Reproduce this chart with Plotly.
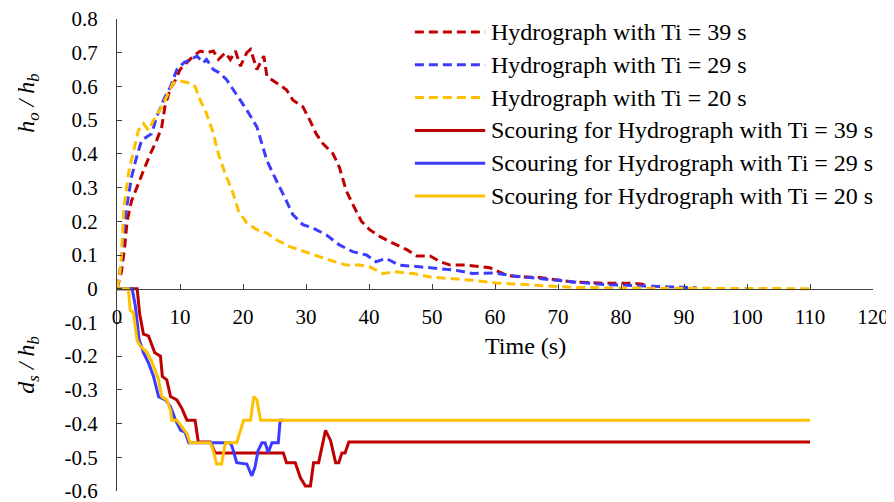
import plotly.graph_objects as go

# ---------------- data ----------------
t_h39 = [0, 0.7, 1.2, 1.6, 2.3, 3.1, 4.2, 5.3, 6.3, 7.1, 7.6, 8.4, 9.3, 10, 11.1, 12.1, 13.2, 14.2, 15.3, 16.1,
         17.2, 18, 18.8, 19.6, 20.6, 21.2, 22.2, 23.3, 23.8, 25.3, 26.9, 27.9, 29.5, 30.6, 31.6, 32.7, 34.3, 35.3,
         36.4, 37.7, 38.8, 40.1, 41.7, 43.8, 46, 47.6, 49.7, 51.3, 52.9, 55.5, 57.6, 59.2, 61.8, 64, 67.1, 70,
         72.4, 77.7, 82, 84]
h_h39 = [0, 0.05, 0.12, 0.2, 0.26, 0.30, 0.35, 0.40, 0.44, 0.48, 0.54, 0.59, 0.62, 0.65, 0.67, 0.69, 0.705, 0.70,
         0.705, 0.68, 0.70, 0.68, 0.705, 0.66, 0.70, 0.71, 0.65, 0.69, 0.63, 0.61, 0.59, 0.56, 0.54, 0.50, 0.46,
         0.43, 0.40, 0.36, 0.29, 0.24, 0.20, 0.175, 0.155, 0.135, 0.116, 0.097, 0.097, 0.08, 0.07, 0.07, 0.065,
         0.062, 0.04, 0.035, 0.033, 0.025, 0.02, 0.016, 0.016, 0.012]

t_h29 = [0, 0.3, 0.7, 1.0, 1.6, 2.3, 3.1, 3.9, 4.7, 5.5, 6.3, 7.4, 8.5, 9.5, 10.6, 11.6, 12.7, 13.7, 14.2, 15.3,
         16.3, 17.4, 18.5, 19.6, 20.6, 22.2, 22.8, 23.8, 24.8, 25.9, 26.9, 27.9, 29.5, 31.1, 33.2, 35.3, 37.4,
         39.6, 41.1, 42.7, 44.8, 48, 50.6, 53.8, 56.4, 59.7, 63, 67.1, 72.4, 77.7, 83, 88.2, 92]
h_h29 = [0, 0.03, 0.08, 0.16, 0.25, 0.33, 0.39, 0.44, 0.45, 0.46, 0.51, 0.56, 0.60, 0.65, 0.67, 0.68, 0.69, 0.67,
         0.68, 0.65, 0.64, 0.62, 0.59, 0.56, 0.53, 0.48, 0.44, 0.38, 0.34, 0.30, 0.26, 0.22, 0.19, 0.18, 0.16,
         0.13, 0.11, 0.10, 0.08, 0.09, 0.07, 0.065, 0.06, 0.055, 0.045, 0.047, 0.038, 0.03, 0.02, 0.012, 0.008,
         0.005, 0.003]

t_h20 = [0, 0.4, 0.7, 1.1, 1.9, 2.6, 3.4, 4.2, 5.0, 5.8, 6.8, 7.9, 8.9, 10.2, 11.6, 12.4, 13.2, 14.2, 15.3, 16.1,
         17.2, 18.3, 19.3, 20.6, 22.2, 23.8, 25.3, 27.4, 29, 31.1, 33.7, 36.4, 38.5, 40.1, 42.2, 44.3, 47, 49.7,
         53.4, 56.4, 60.2, 67.1, 72.4, 80, 90, 100, 110]
h_h20 = [0, 0.035, 0.10, 0.24, 0.35, 0.41, 0.47, 0.49, 0.47, 0.50, 0.53, 0.57, 0.61, 0.615, 0.61, 0.60, 0.56, 0.52,
         0.46, 0.40, 0.34, 0.29, 0.23, 0.195, 0.175, 0.165, 0.145, 0.125, 0.115, 0.10, 0.085, 0.07, 0.07, 0.065,
         0.045, 0.05, 0.045, 0.035, 0.03, 0.025, 0.017, 0.01, 0.004, 0.002, 0.001, 0.0, 0.0]

t_s39 = [0, 3.2, 3.6, 4.2, 5.0, 5.5, 6.0, 6.9, 7.2, 7.9, 8.5, 9.5, 10.3, 11.1, 12.4, 12.9, 14.8, 15.6, 26.4, 26.9,
         28.3, 29.1, 29.9, 30.7, 31.2, 32.0, 33.1, 33.9, 34.7, 35.2, 35.7, 36.2, 36.8, 110]
d_s39 = [0, 0, -0.075, -0.135, -0.14, -0.165, -0.19, -0.2, -0.26, -0.27, -0.32, -0.33, -0.355, -0.39, -0.39,
         -0.455, -0.455, -0.487, -0.487, -0.516, -0.516, -0.56, -0.585, -0.585, -0.516, -0.516, -0.42, -0.45,
         -0.516, -0.516, -0.487, -0.487, -0.455, -0.455]

t_s29 = [0, 2.4, 2.9, 3.5, 4.2, 5.0, 5.8, 6.6, 7.7, 8.5, 9.3, 10.1, 10.8, 11.4, 18.0, 18.3, 19.0, 20.6, 21.4, 21.9,
         22.4, 23.0, 23.5, 24.0, 24.6, 25.6, 25.9, 26.5]
d_s29 = [0, 0, -0.05, -0.15, -0.19, -0.22, -0.26, -0.32, -0.33, -0.35, -0.39, -0.42, -0.425, -0.457, -0.457,
         -0.47, -0.516, -0.52, -0.555, -0.53, -0.48, -0.457, -0.457, -0.486, -0.457, -0.457, -0.39, -0.39]

t_s20 = [0, 1.8, 2.1, 2.6, 3.2, 3.7, 4.8, 5.6, 6.6, 7.1, 7.9, 8.5, 8.7, 9.5, 10.3, 11.1, 11.6, 14.8, 15.3, 15.8,
         16.6, 17.2, 19.0, 20.1, 21.2, 21.7, 22.2, 22.8, 110]
d_s20 = [0, 0, -0.065, -0.07, -0.154, -0.17, -0.19, -0.22, -0.27, -0.32, -0.33, -0.36, -0.39, -0.39, -0.41,
         -0.43, -0.457, -0.457, -0.48, -0.52, -0.52, -0.457, -0.457, -0.39, -0.39, -0.32, -0.33, -0.39, -0.39]

series_names = ["Hydrograph with Ti = 39 s", "Hydrograph with Ti = 29 s", "Hydrograph with Ti = 20 s",
                "Scouring for Hydrograph with Ti = 39 s", "Scouring for Hydrograph with Ti = 29 s",
                "Scouring for Hydrograph with Ti = 20 s"]

y_tickvals = [0.8, 0.7, 0.6, 0.5, 0.4, 0.3, 0.2, 0.1, 0, -0.1, -0.2, -0.3, -0.4, -0.5, -0.6]
y_ticktext = ["0.8", "0.7", "0.6", "0.5", "0.4", "0.3", "0.2", "0.1", "0", "-0.1", "-0.2", "-0.3", "-0.4",
              "-0.5", "-0.6"]
x_tickvals = [0, 10, 20, 30, 40, 50, 60, 70, 80, 90, 100, 110, 120]

# ---------------- styles ----------------
RED, BLUE, YEL = "#C00000", "#3C3CFF", "#FFC000"
FONT = "Liberation Serif"
DASH = "9px,5px"

xs = [t_h39, t_h29, t_h20, t_s39, t_s29, t_s20]
ys = [h_h39, h_h29, h_h20, d_s39, d_s29, d_s20]
colors = [RED, BLUE, YEL, RED, BLUE, YEL]
dashes = [DASH, DASH, DASH, "solid", "solid", "solid"]

fig = go.Figure()
for x, y, c, d, n in zip(xs, ys, colors, dashes, series_names):
    fig.add_trace(go.Scatter(x=x, y=y, mode="lines", name=n,
                             line=dict(color=c, width=3, dash=d), showlegend=False))

# manual legend (long line samples like the original)
leg_x0, leg_x1, leg_tx = 0.394, 0.487, 0.492
leg_y0, leg_dy = 0.9725, 0.0695
for i, (n, c, d) in enumerate(zip(series_names, colors, dashes)):
    yy = leg_y0 - i * leg_dy
    fig.add_shape(type="line", xref="paper", yref="paper", x0=leg_x0, x1=leg_x1, y0=yy, y1=yy,
                  line=dict(color=c, width=3, dash=d))
    fig.add_annotation(xref="paper", yref="paper", x=leg_tx, y=yy, text=n, showarrow=False,
                       xanchor="left", yanchor="middle", font=dict(family=FONT, size=24, color="#000"))

# axis titles
fig.add_annotation(xref="paper", yref="paper", x=-0.118, y=0.822, textangle=-90, showarrow=False,
                   xanchor="center", yanchor="middle",
                   text="<i>h<sub>o</sub> / h<sub>b</sub></i>", font=dict(family=FONT, size=24, color="#000"))
fig.add_annotation(xref="paper", yref="paper", x=-0.118, y=0.267, textangle=-90, showarrow=False,
                   xanchor="center", yanchor="middle",
                   text="<i>d<sub>s</sub> / h<sub>b</sub></i>", font=dict(family=FONT, size=24, color="#000"))
fig.add_annotation(xref="paper", yref="paper", x=0.54, y=0.307, showarrow=False,
                   xanchor="center", yanchor="middle",
                   text="Time (s)", font=dict(family=FONT, size=24, color="#000"))

# page body has an 8px default margin: shrink the figure and its margins to compensate
fig.update_layout(
    width=886, height=494,
    margin=dict(l=109, r=21, t=11, b=11),
    plot_bgcolor="white", paper_bgcolor="white",
    font=dict(family=FONT, size=20, color="#000"),
    xaxis=dict(range=[0, 120], tickvals=x_tickvals, ticks="inside", ticklen=5, tickcolor="#404040",
               showline=True, linecolor="#404040", linewidth=1, showgrid=False, zeroline=False,
               anchor="free", position=0.6 / 1.4, ticklabelstandoff=9, automargin=False,
               ticklabeloverflow="allow",
               tickfont=dict(family=FONT, size=21, color="#000")),
    yaxis=dict(range=[-0.6, 0.8], tickvals=y_tickvals, ticktext=y_ticktext, ticks="inside", ticklen=5,
               tickcolor="#404040", showline=True, linecolor="#404040", linewidth=1, showgrid=False,
               zeroline=False, ticklabelstandoff=14, automargin=False, ticklabeloverflow="allow",
               tickfont=dict(family=FONT, size=21, color="#000")),
)

fig.write_html("out.html")
